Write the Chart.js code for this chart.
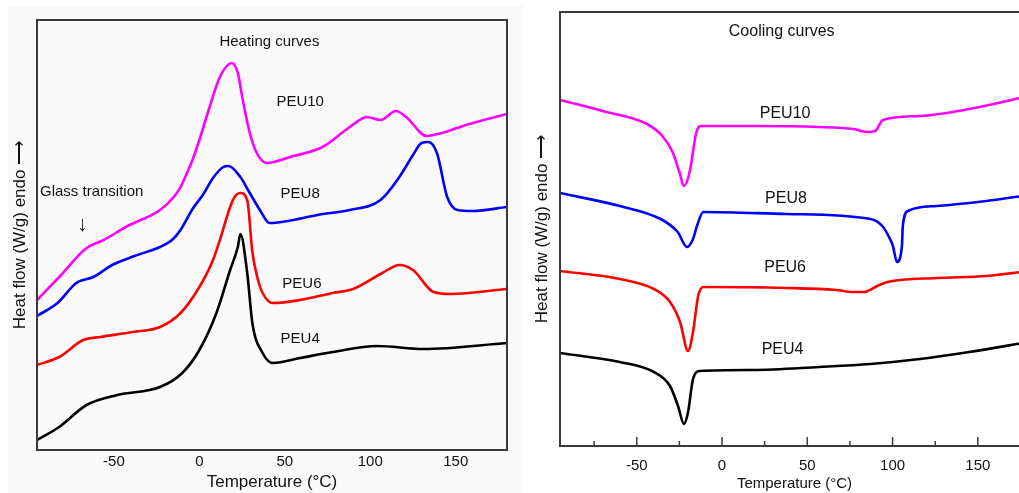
<!DOCTYPE html>
<html>
<head>
<meta charset="utf-8">
<script src="https://cdn.jsdelivr.net/npm/chart.js@4.4.0/dist/chart.umd.min.js"></script>
<style>
  html, body { margin: 0; padding: 0; background: #fff; overflow: hidden; }
  #wrap { position: relative; width: 1019px; height: 493px; overflow: hidden; }
  #shade { position: absolute; left: 8px; top: 5px; width: 515px; height: 488px; background: #fafafa; }
  #heat { position: absolute; left: 0; top: 0; }
  #cool { position: absolute; left: 523px; top: 0; }
</style>
</head>
<body>
<div id="wrap">
  <div id="shade"></div>
  <canvas id="heat" width="523" height="493"></canvas>
  <canvas id="cool" width="520" height="493"></canvas>
</div>
<script>
// temperature tick labels
const xTicks = [-50, 0, 50, 100, 150];

// heating curves (temperature in C, heat flow in arbitrary units)
const heatT10 = [-95, -82, -66, -56, -42, -23, -15, -11, -7, -4, 0, 6, 12, 19, 22.5, 25.4, 29.5, 33.6, 39.5, 53, 72, 88, 98, 106, 115, 121, 133, 142, 156, 180];
const heatV10 = [15.0, 17.3, 20.2, 21.0, 22.4, 24.0, 25.3, 26.3, 27.8, 29.0, 31.0, 34.3, 37.3, 38.7, 37.7, 35.0, 31.7, 29.7, 28.7, 29.3, 30.3, 32.3, 33.3, 33.0, 33.9, 33.3, 31.4, 31.7, 32.5, 33.6];
const heatT8 = [-95, -83, -72, -62, -51, -38, -23, -16, -11, -7, -4, 2, 8, 14, 17, 24, 29.5, 35.4, 41, 55, 69, 88, 106, 117, 125, 130, 134, 139, 145, 151, 160, 180];
const heatV8 = [13.4, 14.7, 16.7, 17.3, 18.5, 19.4, 20.3, 21.0, 22.0, 23.2, 24.1, 25.5, 27.2, 28.3, 28.4, 27.3, 25.7, 24.0, 22.7, 23.0, 23.5, 24.0, 25.0, 27.3, 29.5, 30.7, 30.8, 29.7, 25.3, 24.0, 23.9, 24.3];
const heatT6 = [-95, -82, -68, -58, -39, -23, -11, 0, 8, 12, 18, 21, 24, 28, 31, 34, 37, 43, 59, 78, 90, 107, 117, 125, 137, 147, 180];
const heatV6 = [8.5, 9.3, 11.0, 11.3, 11.8, 12.3, 13.7, 16.3, 19.0, 21.0, 24.3, 25.4, 25.7, 25.0, 19.8, 17.2, 15.7, 14.7, 15.0, 15.7, 16.1, 17.7, 18.5, 18.0, 15.8, 15.6, 16.1];
const heatT4 = [-95, -82, -66, -48, -23, -10, 0, 10, 18, 22.5, 24, 28, 31, 37, 43, 59, 78, 104, 131, 180];
const heatV4 = [1.0, 2.3, 4.5, 5.5, 6.3, 7.7, 10.0, 13.7, 18.0, 20.3, 21.6, 17.7, 12.7, 9.7, 8.7, 9.2, 9.8, 10.4, 10.1, 10.7];

// cooling curves
const coolT10 = [-95, -70, -44, -35, -29, -25, -22.3, -19, -15, -12, 18, 57, 77, 85.6, 89.7, 94.4, 116, 145, 180];
const coolV10 = [34.6, 33.5, 32.2, 31.0, 29.4, 27.4, 26.0, 27.4, 31.4, 32.0, 32.0, 31.9, 31.7, 31.4, 31.5, 32.6, 33.0, 33.7, 35.0];
const coolT8 = [-95, -60, -36, -26, -20.5, -17, -14.7, -11, 38, 87, 94, 98.5, 100.2, 102.6, 105.5, 106, 109, 126, 155, 180];
const coolV8 = [25.3, 24.0, 22.7, 21.4, 19.9, 20.7, 22.0, 23.4, 23.2, 22.7, 22.0, 20.7, 20.0, 18.4, 20.0, 22.0, 23.5, 24.0, 24.5, 25.1];
const coolT6 = [-95, -60, -40, -30.5, -24.6, -19.9, -17, -14, -11, 38, 67, 77, 83, 91, 97, 126, 155, 180];
const coolV6 = [17.5, 16.7, 15.7, 14.4, 12.4, 9.5, 11.4, 15.0, 15.9, 15.8, 15.6, 15.4, 15.4, 16.0, 16.4, 16.8, 17.0, 17.5];
const coolT4 = [-95, -60, -40, -30.5, -25.8, -22.3, -19.9, -17, -13, 18, 57, 87, 116, 145, 180];
const coolV4 = [9.3, 8.4, 7.4, 6.0, 4.0, 2.2, 3.4, 6.7, 7.5, 7.6, 7.9, 8.2, 8.7, 9.4, 10.4];

// text notes placed at (temperature, heat flow)
const heatNotes = [
  ['Heating curves', 41, 40.8],
  ['PEU10', 59, 34.8],
  ['PEU8', 59, 25.6],
  ['PEU6', 60, 16.6],
  ['PEU4', 59, 11.1],
  ['Glass transition', -63, 25.8],
  ['\u2193', -68.5, 22.5]
];
const coolNotes = [
  ['Cooling curves', 35, 41.4],
  ['PEU10', 37, 33.2],
  ['PEU8', 37.5, 24.75],
  ['PEU6', 37, 17.85],
  ['PEU4', 35.5, 9.65]
];

const FONT = "'Liberation Sans', Arial, sans-serif";

function pts(xs, ys) {
  return xs.map((x, i) => ({x: x, y: ys[i]}));
}

function line(data, color) {
  return {
    data: data,
    borderColor: color,
    borderWidth: 2.6,
    pointRadius: 0,
    fill: false,
    cubicInterpolationMode: 'monotone'
  };
}

const framePlugin = {
  id: 'frame',
  afterDatasetsDraw(chart, args, opts) {
    const ctx = chart.ctx;
    const a = chart.chartArea;
    ctx.save();
    ctx.strokeStyle = '#3a3a3a';
    ctx.lineWidth = 2;
    ctx.strokeRect(a.left, a.top, a.right - a.left, a.bottom - a.top);
    if (opts.inTicks) {
      const xs = chart.scales.x;
      ctx.lineWidth = 1.5;
      for (let v = -75; v <= 175; v += 25) {
        const px = xs.getPixelForValue(v);
        const len = v % 50 === 0 ? 9 : 5;
        ctx.beginPath();
        ctx.moveTo(px, a.bottom);
        ctx.lineTo(px, a.bottom - len);
        ctx.stroke();
      }
    }
    ctx.fillStyle = '#111';
    ctx.textAlign = 'center';
    ctx.textBaseline = 'middle';
    opts.notes.forEach(n => {
      const px = chart.scales.x.getPixelForValue(n[1]);
      const py = chart.scales.y.getPixelForValue(n[2]);
      // the arrow glyph is drawn bigger than the words
      ctx.font = (n[0] === '\u2193' ? 21 : opts.size) + 'px ' + FONT;
      ctx.fillText(n[0], px, py);
    });
    ctx.restore();
  }
};

function makeChart(id, sets, cfg) {
  return new Chart(document.getElementById(id), {
    type: 'line',
    data: {datasets: sets},
    options: {
      responsive: false,
      animation: false,
      devicePixelRatio: 1,
      events: [],
      layout: {padding: {top: cfg.top, right: cfg.right, left: 0, bottom: 0}},
      plugins: {
        legend: {display: false},
        tooltip: {enabled: false},
        frame: {notes: cfg.notes, size: cfg.noteSize, inTicks: cfg.inTicks}
      },
      scales: {
        x: {
          type: 'linear',
          min: -95,
          max: 180,
          grid: {display: false, drawTicks: false},
          border: {display: false},
          afterBuildTicks: s => { s.ticks = xTicks.map(v => ({value: v})); },
          afterFit: s => { s.height = cfg.xHeight; },
          ticks: {
            color: '#111',
            padding: cfg.tickPad,
            maxRotation: 0,
            font: {family: FONT, size: cfg.tickSize}
          },
          title: {
            display: true,
            text: 'Temperature (\u00B0C)',
            color: '#111',
            padding: 0,
            font: {family: FONT, size: cfg.titleSize}
          }
        },
        y: {
          type: 'linear',
          min: 0,
          max: cfg.yMax,
          grid: {display: false, drawTicks: false},
          border: {display: false},
          ticks: {display: false},
          afterFit: s => { s.width = 37; },
          title: {
            display: true,
            text: 'Heat flow (W/g) endo \u27F6',
            color: '#111',
            padding: {top: cfg.yTitlePad, bottom: 0},
            font: {family: FONT, size: 17}
          }
        }
      }
    },
    plugins: [framePlugin]
  });
}

makeChart('heat', [
  line(pts(heatT10, heatV10), '#ff00ff'),
  line(pts(heatT8, heatV8), '#0000ff'),
  line(pts(heatT6, heatV6), '#ff0000'),
  line(pts(heatT4, heatV4), '#000000')
], {top: 20, right: 16, xHeight: 43, yMax: 43, tickPad: 3, tickSize: 15, titleSize: 17,
    yTitlePad: 10, notes: heatNotes, noteSize: 15, inTicks: false});

makeChart('cool', [
  line(pts(coolT10, coolV10), '#ff00ff'),
  line(pts(coolT8, coolV8), '#0000ff'),
  line(pts(coolT6, coolV6), '#ff0000'),
  line(pts(coolT4, coolV4), '#000000')
], {top: 12, right: 14, xHeight: 47, yMax: 43.4, tickPad: 11, tickSize: 15, titleSize: 15,
    yTitlePad: 9, notes: coolNotes, noteSize: 16, inTicks: true});
</script>
</body>
</html>
